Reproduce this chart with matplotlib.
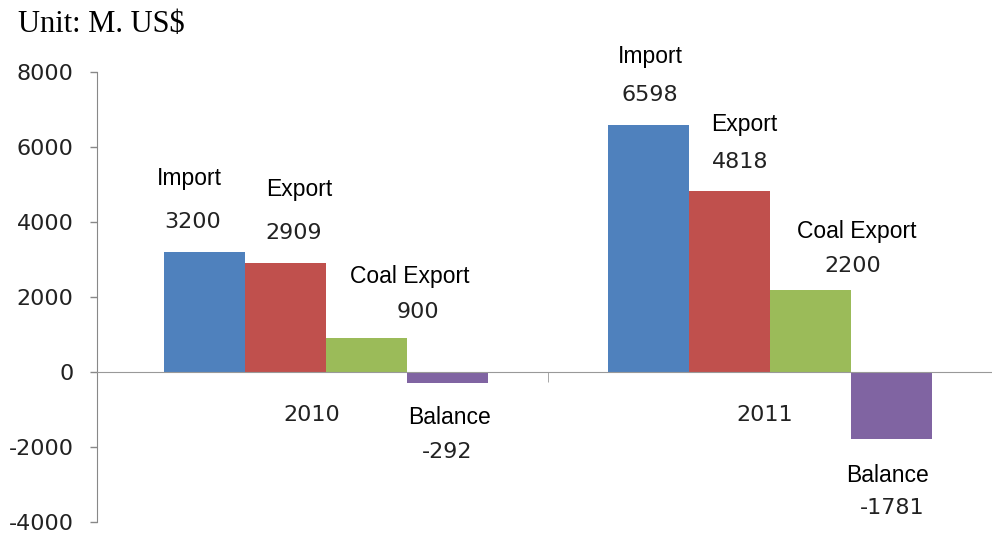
import matplotlib
matplotlib.use("Agg")
import matplotlib.pyplot as plt
import matplotlib.transforms as mtransforms
import numpy as np
from matplotlib.ticker import FixedLocator

plt.rcParams["axes.unicode_minus"] = False

YEARS = ["2010", "2011"]
SERIES = ["Import", "Export", "Coal Export", "Balance"]
VALUES = {
    "Import": [3200, 6598],
    "Export": [2909, 4818],
    "Coal Export": [900, 2200],
    "Balance": [-292, -1781],
}
COLORS = {
    "Import": "#4F81BD",
    "Export": "#C0504D",
    "Coal Export": "#9BBB59",
    "Balance": "#8064A2",
}

# hand-placed label offsets in pixels from the bar end: (name dx, name dy, value dx, value dy)
LABEL_OFFSETS = {
    "Import": [(-15, 74, -12, 30), (2, 68, 1, 30)],
    "Export": [(14, 73, 8, 30), (15, 67, 11, 29)],
    "Coal Export": [(43, 62, 51, 26), (46, 58, 42, 23)],
    "Balance": [(2, -35, 0, -69), (-4, -37, 1, -69)],
}

W, H = 992, 537
fig = plt.figure(figsize=(W / 100, H / 100), dpi=100)
ax = fig.add_axes([97 / W, (H - 522) / H, (992 - 97) / W, (522 - 72) / H])

x = np.arange(len(YEARS))
width = 0.1825
for i, s in enumerate(SERIES):
    xs = x + (i - 1.5) * width
    bars = ax.bar(xs, VALUES[s], width, color=COLORS[s], zorder=2)
    for j, (bar, v) in enumerate(zip(bars, VALUES[s])):
        ndx, ndy, vdx, vdy = LABEL_OFFSETS[s][j]
        cx = bar.get_x() + bar.get_width() / 2
        ax.annotate(s, (cx, v), xytext=(ndx, ndy), textcoords="offset pixels",
                    ha="center", va="center", fontsize=16.5,
                    family="Liberation Sans", color="black")
        ax.annotate(f"{v}", (cx, v), xytext=(vdx, vdy), textcoords="offset pixels",
                    ha="center", va="center", fontsize=16, color="#222222")

ax.set_xlim(-0.516, 1.5)
ax.set_ylim(-4000, 8000)
ax.set_yticks(np.arange(-4000, 8001, 2000))
ax.tick_params(axis="y", length=5, width=1, color="#888888", pad=12,
               labelsize=16, labelcolor="#222222")

for side in ("top", "right"):
    ax.spines[side].set_visible(False)
ax.spines["left"].set_color("#888888")
ax.spines["bottom"].set_position(("data", 0))
ax.spines["bottom"].set_color("#999999")
ax.spines["bottom"].set_zorder(3)

ax.set_xticks(x)
ax.set_xticklabels(YEARS)
ax.xaxis.set_minor_locator(FixedLocator([0.5]))
ax.tick_params(axis="x", which="major", length=0, pad=24,
               labelsize=16, labelcolor="#222222")
ax.tick_params(axis="x", which="minor", length=7, color="#999999")

# category labels sit a little left of the group centres
for lbl, dx in zip(ax.get_xticklabels(), (-14, -5)):
    shift = mtransforms.ScaledTranslation(dx / 100, 0, fig.dpi_scale_trans)
    lbl.set_transform(lbl.get_transform() + shift)

fig.text(18 / W, 1 - 25 / H, "Unit: M. US$", family="Liberation Serif",
         fontsize=22, ha="left", va="center", color="black")

fig.savefig("out.png", dpi=100)
